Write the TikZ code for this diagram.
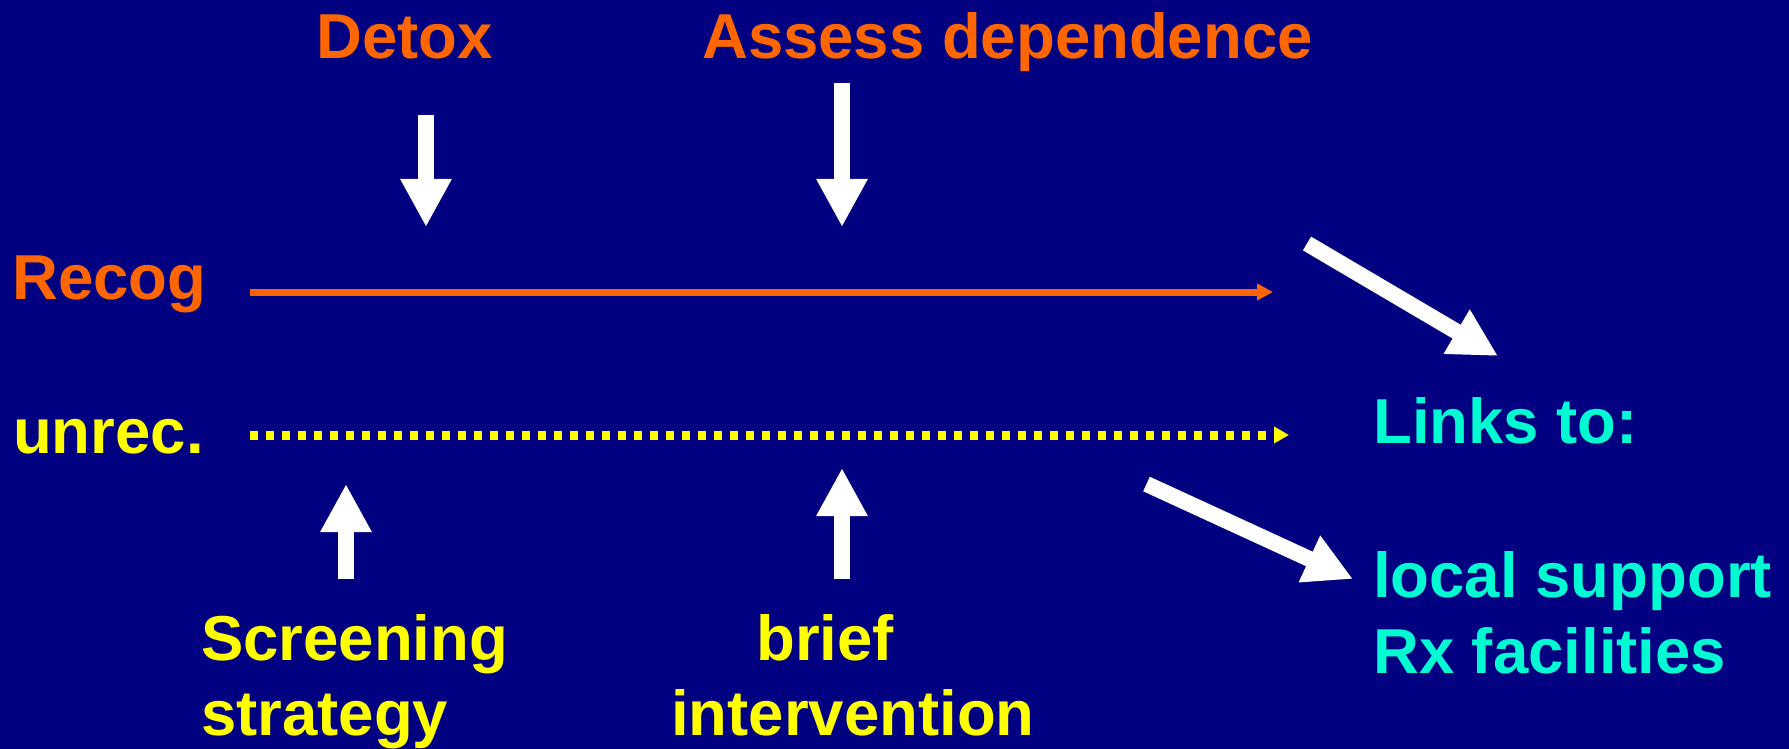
\documentclass[tikz,border=0pt]{standalone}
\usepackage{fontspec}
\setmainfont{Liberation Sans}
\usetikzlibrary{arrows.meta}
\definecolor{navybg}{RGB}{0,0,128}
\definecolor{orng}{RGB}{255,102,0}
\definecolor{yel}{RGB}{255,255,0}
\definecolor{cyn}{RGB}{0,250,210}
\begin{document}
\begin{tikzpicture}[x=1pt,y=-1pt,
  lbl/.style={anchor=base west,inner sep=0pt,font=\fontsize{63.5}{75}\selectfont\bfseries},
  bigarrow/.style={white,line width=16pt,-{Triangle[width=48pt,length=48pt]}},
  recogline/.style={orng,line width=7pt,-{Triangle[width=16pt,length=16pt]}},
  unrecline/.style={yel,line width=9pt,dash pattern=on 8pt off 8pt,-{Triangle[width=16pt,length=15pt]}}]
\fill[navybg] (0,0) rectangle (1789,749);
\useasboundingbox (0,0) rectangle (1789,749);
% labels
\node[lbl,text=orng] (detox) at (316,59) {Detox};
\node[lbl,text=orng] (assess) at (702,59) {Assess dependence};
\node[lbl,text=orng] (recog) at (12,299) {Recog};
\node[lbl,text=yel] (unrec) at (13,453) {unrec.};
\node[lbl,text=yel] (screening) at (201,660) {Screening};
\node[lbl,text=yel] (strategy) at (201,735) {strategy};
\node[lbl,text=yel] (brief) at (756,660) {brief};
\node[lbl,text=yel] (intervention) at (671,735) {intervention};
\node[lbl,text=cyn] (links) at (1373,443) {Links to:};
\node[lbl,text=cyn] (local) at (1373,597) {local support};
\node[lbl,text=cyn] (rx) at (1373,673) {Rx facilities};
% arrow end points
\coordinate (detoxS) at (426,115);
\coordinate (detoxE) at (426,227);
\coordinate (assessS) at (842,83);
\coordinate (assessE) at (842,227);
\coordinate (screenS) at (346,579);
\coordinate (screenE) at (346,484);
\coordinate (briefS) at (842,579);
\coordinate (briefE) at (842,468);
\coordinate (recogS) at (250,292);
\coordinate (recogE) at (1273,292);
\coordinate (unrecS) at (250,435);
\coordinate (unrecE) at (1289,435);
\coordinate (diagAS) at (1307,243.5);
\coordinate (diagAE) at (1498,356);
\coordinate (diagBS) at (1146.5,484);
\coordinate (diagBE) at (1353,579);
% arrows
\draw[bigarrow] (detoxS) -- (detoxE);
\draw[bigarrow] (assessS) -- (assessE);
\draw[bigarrow] (screenS) -- (screenE);
\draw[bigarrow] (briefS) -- (briefE);
\draw[bigarrow] (diagAS) -- (diagAE);
\draw[bigarrow] (diagBS) -- (diagBE);
\draw[recogline] (recogS) -- (recogE);
\draw[unrecline] (unrecS) -- (unrecE);
\end{tikzpicture}
\end{document}
